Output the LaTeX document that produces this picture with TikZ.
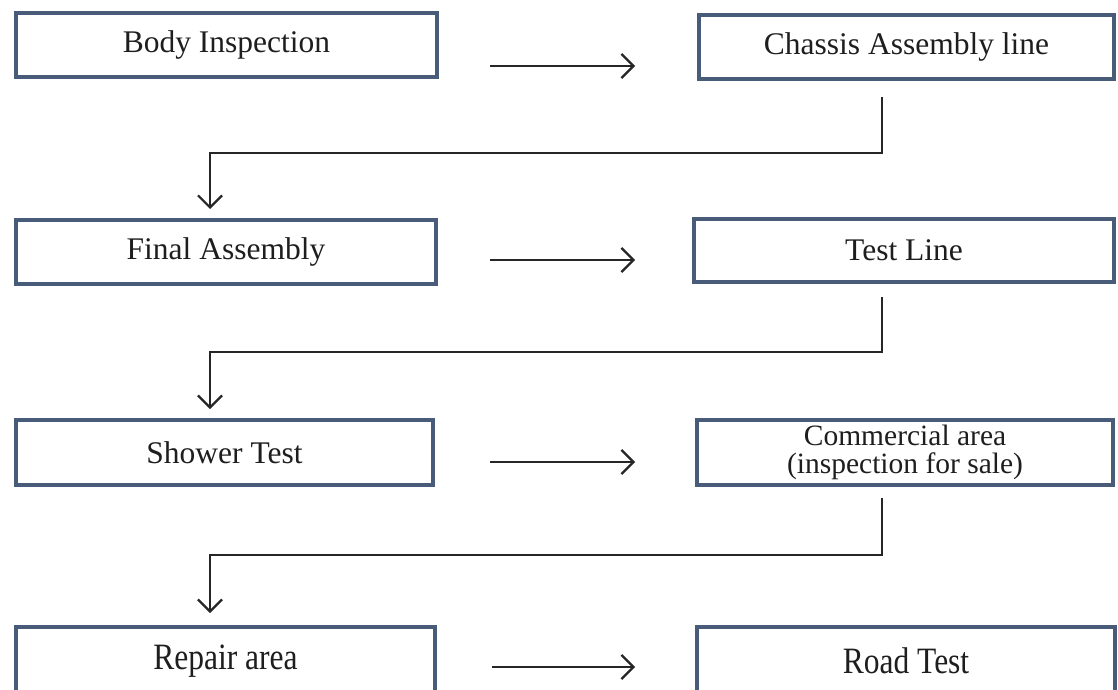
\documentclass[tikz,border=0pt]{standalone}
\usepackage{fontspec}
\usepackage{graphicx}
\setmainfont{Liberation Serif}
\usetikzlibrary{arrows.meta,calc}
\definecolor{boxblue}{RGB}{72,92,122}
\definecolor{txt}{RGB}{30,30,30}
\tikzset{
  stepbox/.style={draw=boxblue, line width=4pt, fill=white, inner sep=0pt, text=txt,
    font=\fontsize{31.5}{36}\selectfont, align=center},
  flow/.style={draw=black!85, line width=2.2pt, -{Straight Barb[length=12pt,width=24pt]}},
}
\begin{document}
\begin{tikzpicture}[x=1pt,y=-1pt]
\useasboundingbox[fill=white] (0,0) rectangle (1118,690);
% boxes
\node[stepbox, minimum width=421pt, minimum height=64pt] (body) at (226.5,45) {Body Inspection};
\node[stepbox, minimum width=415pt, minimum height=64pt] (chassis) at (906.5,47) {Chassis Assembly line};
\node[stepbox, minimum width=420pt, minimum height=64pt] (final) at (226,252) {Final Assembly};
\node[stepbox, minimum width=420pt, minimum height=63pt] (test) at (904,250.5) {Test Line};
\node[stepbox, minimum width=417pt, minimum height=65pt] (shower) at (224.5,452.5) {Shower Test};
\node[stepbox, minimum width=416pt, minimum height=65pt, font=\fontsize{29.5}{28}\selectfont] (comm) at (905,452.5) {Commercial area\\(inspection for sale)};
\node[stepbox, minimum width=419pt, minimum height=68pt] (repair) at (225.5,661) {\scalebox{1}[1.18]{Repair area}};
\node[stepbox, minimum width=418pt, minimum height=68pt] (road) at (906,661) {\scalebox{1}[1.18]{Road Test}};
% horizontal arrows
\coordinate (h1s) at (490,66);  \coordinate (h1e) at (635,66);
\coordinate (h2s) at (490,260); \coordinate (h2e) at (635,260);
\coordinate (h3s) at (490,462); \coordinate (h3e) at (635,462);
\coordinate (h4s) at (492,667); \coordinate (h4e) at (635,667);
\draw[flow] (h1s) -- (h1e);
\draw[flow] (h2s) -- (h2e);
\draw[flow] (h3s) -- (h3e);
\draw[flow] (h4s) -- (h4e);
% elbow connectors
\coordinate (v1s) at (882,97);  \coordinate (k1) at (210,153);
\coordinate (v2s) at (882,297); \coordinate (k2) at (210,352);
\coordinate (v3s) at (882,498); \coordinate (k3) at (210,555);
\draw[flow, shorten >=9pt] (v1s) |- (k1) -- (k1 |- final.north);
\draw[flow, shorten >=9pt] (v2s) |- (k2) -- (k2 |- shower.north);
\draw[flow, shorten >=12pt] (v3s) |- (k3) -- (k3 |- repair.north);
\end{tikzpicture}
\end{document}
